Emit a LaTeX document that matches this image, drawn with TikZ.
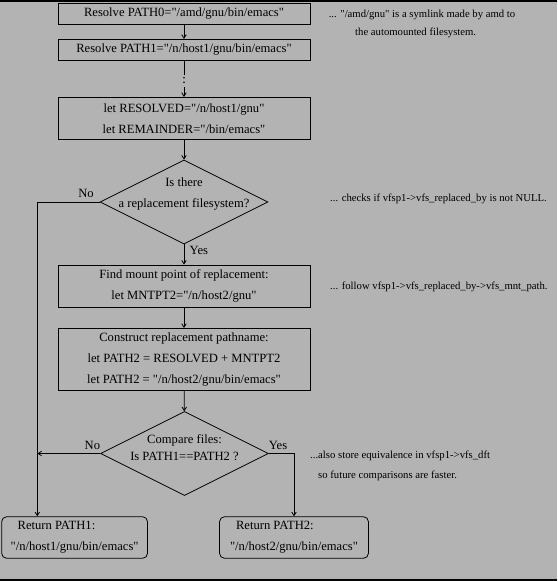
\documentclass[tikz,border=0pt]{standalone}
\usepackage{fontspec}
\setmainfont{Liberation Serif}
\usetikzlibrary{arrows.meta,shapes.geometric}
\definecolor{bg}{HTML}{B3B3B3}
\newcommand{\q}{\textquotedbl}
\begin{document}
\begin{tikzpicture}[x=1pt,y=-1pt,
  every node/.style={font=\fontsize{12.6}{21}\selectfont, inner sep=0pt},
  box/.style={draw, line width=0.8pt, minimum width=252pt, align=center},
  retbox/.style={draw, line width=0.8pt, rounded corners=5pt, align=left},
  dia/.style={draw, line width=0.8pt, diamond, minimum width=168pt, minimum height=84pt},
  note/.style={font=\fontsize{10.7}{14}\selectfont, anchor=west},
  lbl/.style={anchor=center},
  conn/.style={line width=0.8pt},
  arr/.style={conn, -{Straight Barb[length=3.5pt,width=4.5pt]}}
]
\useasboundingbox (0,0) rectangle (557,581);
\fill[bg] (0,0) rectangle (557,581);
\fill[black] (0,0) rectangle (557,2.2);
\fill[black] (0,578.7) rectangle (557,581);

% boxes
\node[box, minimum height=21pt] (b1) at (184,13.8) {Resolve PATH0=\q/amd/gnu/bin/emacs\q};
\node[box, minimum height=21pt] (b2) at (184,49.8) {Resolve PATH1=\q/n/host1/gnu/bin/emacs\q};
\node[box, minimum height=41.7pt] (b3) at (184,118.2) {let RESOLVED=\q/n/host1/gnu\q\\let REMAINDER=\q/bin/emacs\q};
\node[dia] (d1) at (184,202) {};
\node[lbl] (d1t) at (184,194) [align=center] {Is there\\a replacement filesystem?};
\node[box, minimum height=42pt] (b4) at (184,286) {Find mount point of replacement:\\let MNTPT2=\q/n/host2/gnu\q};
\node[box, minimum height=61.7pt] (b5) at (184,359.2) {Construct replacement pathname:\\let PATH2 = RESOLVED + MNTPT2\\let PATH2 = \q/n/host2/gnu/bin/emacs\q};
\node[dia] (d2) at (184.5,453.5) {};
\node[lbl, align=center, font=\fontsize{12.6}{16.7}\selectfont] (d2t) at (184.5,447.3) {Compare files:\\Is PATH1==PATH2 ?};
\node[retbox, minimum width=145.6pt, minimum height=41.6pt, inner xsep=9pt] (r1) at (74.6,537.5) {\hspace{7pt}Return PATH1:\\\q/n/host1/gnu/bin/emacs\q};
\node[retbox, minimum width=146pt, minimum height=41.6pt, inner xsep=10.5pt] (r2) at (294,537.5) {\hspace{6pt}Return PATH2:\\\q/n/host2/gnu/bin/emacs\q};

% labels
\node[lbl] (no1) at (86,193) {No};
\node[lbl, anchor=west] (yes1) at (189.5,250.7) {Yes};
\node[lbl] (no2) at (92.4,445) {No};
\node[lbl] (yes2) at (278,445) {Yes};

% notes
\node[note] (n1a) at (328.6,15) {... \q/amd/gnu\q{} is a symlink made by amd to};
\node[note] (n1b) at (355,33) {the automounted filesystem.};
\node[note] (n2) at (330,199) {... checks if vfsp1->vfs\_replaced\_by is not NULL.};
\node[note] (n3) at (330,287) {... follow vfsp1->vfs\_replaced\_by->vfs\_mnt\_path.};
\node[note] (n4a) at (310,455.7) {...also store equivalence in vfsp1->vfs\_dft};
\node[note] (n4b) at (318,475.7) {so future comparisons are faster.};

% connectors
\coordinate (dA) at (184,75);
\coordinate (dB) at (184,87);
\coordinate (c1) at (37.3,202);
\coordinate (c2) at (294,453.5);
\draw[arr] (b1) -- (b2);
\draw[conn] (b2.south) -- (dA);
\fill (184,77.8) circle (0.9pt);
\fill (184,82.2) circle (0.9pt);
\draw[arr] (dB) -- (b3.north);
\draw[arr] (b3) -- (d1);
\draw[arr] (d1.west) -- (c1) -- (c1 |- r1.north);
\draw[arr] (d1.south) -- (b4.north);
\draw[arr] (b4) -- (b5);
\draw[arr] (b5) -- (d2);
\draw[arr] (d2.west) -- (d2.west -| c1);
\draw[arr] (d2.east) -- (c2) -- (c2 |- r2.north);
\end{tikzpicture}
\end{document}
